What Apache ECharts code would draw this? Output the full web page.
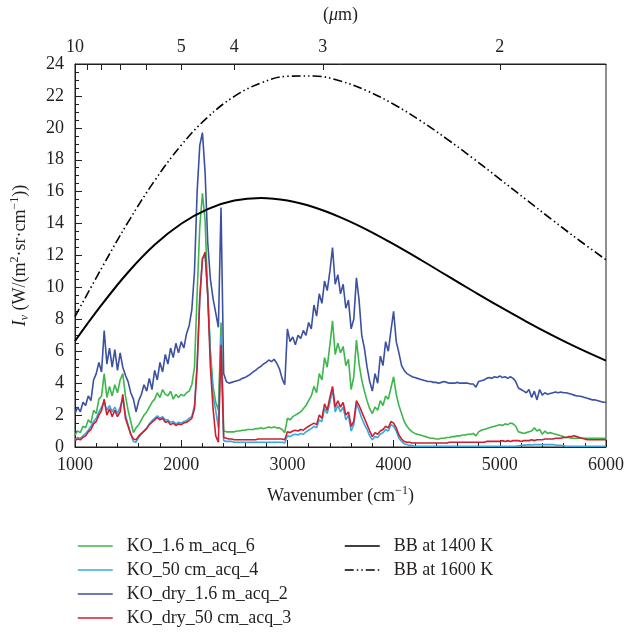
<!DOCTYPE html>
<html>
<head>
<meta charset="utf-8">
<script src="https://cdn.jsdelivr.net/npm/echarts@6/dist/echarts.min.js"></script>
<style>
  html, body { margin: 0; padding: 0; background: #fff; }
  #chart { width: 625px; height: 637px; }
</style>
</head>
<body>
<div id="chart"></div>
<script>
// spectra sampled every 25 cm-1 from 1000 to 6000
var wnStart = 1000, wnStep = 25;

var ko16m = [
  0.75, 1.0, 0.9, 1.3, 1.2, 1.7, 1.5, 2.3, 2.1, 3.0,
  3.2, 4.6, 3.1, 3.8, 3.2, 3.9, 3.4, 4.2, 4.6, 3.2,
  2.3, 1.6, 0.9, 1.2, 1.4, 1.7, 2.0, 2.2, 2.5, 2.8,
  3.0, 3.4, 3.1, 3.6, 3.3, 3.2, 3.5, 3.0, 3.3, 3.1,
  3.3, 3.2, 3.4, 3.5, 3.9, 5.0, 9.6, 13.8, 15.9, 14.2,
  9.5, 6.0, 3.8, 2.8, 2.3, 7.8, 1.0, 0.95, 0.95, 0.95,
  0.95, 1.0, 1.0, 1.05, 1.05, 1.1, 1.1, 1.1, 1.15, 1.15,
  1.2, 1.15, 1.2, 1.25, 1.2, 1.25, 1.2, 1.2, 1.1, 0.9,
  1.8, 1.7, 1.9, 2.0, 2.1, 2.2, 2.4, 2.6, 2.9, 3.2,
  3.8, 3.4, 4.6, 4.2, 5.6, 5.0, 6.4, 7.9, 5.8, 6.5,
  5.9, 6.3, 5.1, 5.5, 3.6, 4.4, 6.7, 5.2, 4.2, 3.5,
  2.9, 2.4, 2.1, 2.5, 2.3, 2.9, 2.6, 3.2, 3.0, 3.7,
  4.4, 3.3, 2.6, 2.1, 1.6, 1.3, 1.1, 0.95, 0.85, 0.8,
  0.75, 0.7, 0.65, 0.6, 0.55, 0.55, 0.5, 0.5, 0.55, 0.55,
  0.6, 0.6, 0.65, 0.65, 0.7, 0.7, 0.75, 0.75, 0.8, 0.8,
  0.85, 0.7, 0.95, 1.05, 1.1, 1.15, 1.2, 1.25, 1.3, 1.35,
  1.4, 1.35, 1.45, 1.4, 1.5, 1.45, 1.3, 0.95, 0.9, 0.85,
  0.9, 0.95, 1.0, 1.2, 1.0, 1.1, 0.8, 1.0, 0.85, 0.9,
  0.85, 0.8, 0.75, 0.7, 0.65, 0.6, 0.6, 0.55, 0.55, 0.55,
  0.55, 0.55, 0.55, 0.55, 0.55, 0.55, 0.55, 0.55, 0.55, 0.55,
  0.55
];

var ko50cm = [
  0.45, 0.6, 0.55, 0.7, 0.85, 1.05, 1.3, 1.6, 1.8, 2.2,
  2.5, 2.8, 2.3, 2.6, 2.2, 2.5, 2.1, 2.5, 3.0, 2.0,
  1.4, 0.8, 0.35, 0.3, 0.6, 0.8, 1.0, 1.2, 1.45, 1.65,
  1.8, 1.95, 1.8, 1.9, 1.7, 1.7, 1.55, 1.6, 1.45, 1.55,
  1.5, 1.6, 1.65, 1.8, 1.9, 2.6, 5.2, 9.4, 11.8, 12.0,
  9.6, 5.8, 3.2, 2.3, 1.2, 7.0, 0.4, 0.35, 0.35, 0.35,
  0.3, 0.3, 0.3, 0.3, 0.3, 0.3, 0.3, 0.3, 0.3, 0.3,
  0.3, 0.3, 0.3, 0.3, 0.3, 0.3, 0.3, 0.3, 0.3, 0.25,
  0.7, 0.65, 0.75, 0.8, 0.75, 0.85, 0.8, 0.95, 1.05, 1.15,
  1.3, 1.2, 1.7, 1.6, 2.4, 2.1, 2.8, 3.6, 2.2, 2.6,
  2.2, 2.5, 1.7, 2.0, 1.0, 1.4, 2.7, 2.3, 1.8, 1.4,
  1.1, 0.7, 0.45, 0.65, 0.6, 0.8, 0.9, 1.1, 1.0, 1.4,
  1.3, 1.0, 0.55, 0.35, 0.2, 0.15, 0.1, 0.1, 0.05, 0.05,
  0.05, 0.05, 0.05, 0.05, 0.05, 0.05, 0.05, 0.05, 0.05, 0.05,
  0.05, 0.05, 0.05, 0.05, 0.05, 0.05, 0.05, 0.05, 0.05, 0.05,
  0.05, 0.05, 0.05, 0.05, 0.05, 0.05, 0.05, 0.05, 0.05, 0.05,
  0.05, 0.05, 0.05, 0.05, 0.05, 0.05, 0.05, 0.08, 0.1, 0.12,
  0.12, 0.15, 0.12, 0.15, 0.15, 0.15, 0.15, 0.15, 0.15, 0.15,
  0.15, 0.12, 0.1, 0.1, 0.08, 0.05, 0.05, 0.05, 0.05, 0.05,
  0.05, 0.05, 0.05, 0.05, 0.05, 0.05, 0.05, 0.05, 0.05, 0.05,
  0.05
];

var koDry16m = [
  2.1, 2.5, 2.2, 2.8, 2.6, 3.2, 2.9, 4.2, 4.6, 5.3,
  4.7, 7.3, 5.2, 6.2, 5.0, 6.1, 4.8, 5.9, 5.0, 4.5,
  4.1, 3.4, 3.0, 2.2, 2.9, 3.3, 3.9, 3.5, 4.3, 3.6,
  4.8, 4.2, 5.3, 4.7, 5.8, 5.2, 6.2, 5.6, 6.5, 5.9,
  6.6, 6.2, 7.1, 7.6, 8.6, 11.0, 16.0, 18.9, 19.7, 17.2,
  12.8, 10.5, 9.3, 8.4, 7.5, 15.0, 4.6, 4.1, 4.0, 4.05,
  4.1, 4.15, 4.2, 4.3, 4.35, 4.45, 4.55, 4.7, 4.8, 4.95,
  5.05, 5.2, 5.3, 5.45, 5.35, 5.5, 5.25, 4.9, 4.3, 3.9,
  7.4, 6.6, 6.9, 6.4, 7.0, 6.8, 7.3, 7.0, 7.8, 7.4,
  8.9, 8.2, 9.6, 9.0, 10.4, 9.8, 11.0, 12.5, 10.2, 10.8,
  9.6, 10.2, 8.7, 9.2, 7.4, 8.0, 10.6, 9.2, 7.0, 6.2,
  5.0, 4.1, 3.5, 4.6, 4.0, 5.7, 5.1, 6.6, 6.0, 7.3,
  8.5, 6.6, 5.9, 5.1, 4.8, 4.6, 4.5, 4.4, 4.35, 4.3,
  4.25, 4.2, 4.15, 4.1, 4.1, 4.05, 4.05, 4.0, 4.05, 4.1,
  4.05, 4.0, 4.0, 4.0, 4.05, 4.0, 4.0, 4.0, 4.0, 3.95,
  3.95, 3.75, 4.1, 4.15, 4.2, 4.3, 4.35, 4.3, 4.4, 4.35,
  4.45, 4.35, 4.4, 4.3, 4.4, 4.3, 4.1, 3.7, 3.6, 3.5,
  3.4, 3.6, 3.1, 3.5, 2.95, 3.6, 3.25, 3.4, 3.3, 3.35,
  3.4, 3.45, 3.4, 3.45, 3.4, 3.4, 3.35, 3.3, 3.25, 3.2,
  3.2, 3.15, 3.1, 3.05, 3.0, 2.95, 2.95, 2.9, 2.85, 2.8,
  2.8
];

var koDry50cm = [
  0.4, 0.5, 0.45, 0.6, 0.7, 0.95, 1.1, 1.45, 1.6, 2.0,
  2.3, 3.0, 2.0, 2.4, 1.9, 2.3, 1.9, 2.2, 3.3, 1.8,
  1.3, 0.8, 0.5, 0.45, 0.7, 0.85, 1.0, 1.15, 1.4, 1.55,
  1.7, 1.85, 1.7, 1.8, 1.55, 1.6, 1.4, 1.5, 1.35, 1.45,
  1.4, 1.5, 1.55, 1.65, 1.8, 2.4, 5.0, 9.3, 11.8, 12.2,
  9.5, 5.0, 2.4, 0.7, 0.3, 6.4, 0.6, 0.55, 0.5, 0.5,
  0.45, 0.45, 0.45, 0.45, 0.45, 0.45, 0.45, 0.45, 0.45, 0.5,
  0.5, 0.5, 0.5, 0.5, 0.5, 0.5, 0.5, 0.5, 0.5, 0.45,
  0.95, 0.9, 1.0, 1.05, 1.0, 1.1, 1.05, 1.2, 1.3, 1.4,
  1.5, 1.4, 2.0, 1.8, 2.7, 2.3, 3.1, 3.8, 2.5, 2.9,
  2.5, 2.8, 2.0, 2.2, 1.3, 1.6, 2.9, 2.6, 2.2, 1.8,
  1.4, 1.0, 0.65, 0.9, 0.8, 1.0, 1.1, 1.3, 1.2, 1.6,
  1.5, 1.2, 0.75, 0.5, 0.35, 0.3, 0.3, 0.25, 0.25, 0.25,
  0.25, 0.25, 0.25, 0.25, 0.25, 0.25, 0.25, 0.25, 0.25, 0.25,
  0.25, 0.3, 0.3, 0.3, 0.3, 0.3, 0.3, 0.3, 0.3, 0.3,
  0.3, 0.3, 0.3, 0.3, 0.3, 0.35, 0.35, 0.35, 0.35, 0.35,
  0.35, 0.4, 0.35, 0.4, 0.35, 0.4, 0.4, 0.4, 0.35, 0.4,
  0.4, 0.4, 0.45, 0.4, 0.45, 0.45, 0.45, 0.5, 0.5, 0.5,
  0.5, 0.55, 0.55, 0.55, 0.6, 0.6, 0.65, 0.65, 0.7, 0.65,
  0.6, 0.55, 0.5, 0.45, 0.45, 0.45, 0.45, 0.45, 0.45, 0.45,
  0.45
];

// blackbody curves, read every 250 cm-1
var bbWn = [1000, 1250, 1500, 1750, 2000, 2250, 2500, 2750, 3000, 3250, 3500,
  3750, 4000, 4250, 4500, 4750, 5000, 5250, 5500, 5750, 6000];
var bb1400 = [6.64, 8.90, 10.95, 12.67, 13.99, 14.91, 15.44, 15.60, 15.44, 15.02, 14.39,
  13.61, 12.71, 11.75, 10.75, 9.76, 8.79, 7.86, 6.98, 6.16, 5.41];
var bb1600 = [8.17, 11.20, 14.09, 16.69, 18.91, 20.67, 21.97, 22.81, 23.23, 23.25, 22.93,
  22.32, 21.48, 20.46, 19.31, 18.08, 16.79, 15.49, 14.20, 12.94, 11.73];

// top axis (wavelength, um)
var umTicks = [10, 9, 8, 7, 6, 5, 4, 3, 2];
var umLabels = [10, 5, 4, 3, 2];

var serif = "'Liberation Serif', 'DejaVu Serif', serif";
var ink = '#231f20';

function pairs(vals) {
  return vals.map(function (v, i) { return [wnStart + i * wnStep, v]; });
}
function bbPairs(vals) {
  return vals.map(function (v, i) { return [bbWn[i], v]; });
}

var richText = {
  it: { fontStyle: 'italic', fontFamily: serif, fontSize: 18, color: ink, lineHeight: 22, verticalAlign: 'middle' },
  sub: { fontStyle: 'italic', fontFamily: serif, fontSize: 12, color: ink, lineHeight: 22, verticalAlign: 'bottom' },
  sup: { fontFamily: serif, fontSize: 12, color: ink, lineHeight: 22, verticalAlign: 'top' },
  t: { fontFamily: serif, fontSize: 18, color: ink, lineHeight: 22, verticalAlign: 'middle' }
};

var chart = echarts.init(document.getElementById('chart'), null, { renderer: 'canvas' });

var specLine = function (name, color, vals) {
  return {
    name: name,
    type: 'line',
    xAxisIndex: 0,
    yAxisIndex: 0,
    symbol: 'none',
    showSymbol: false,
    lineStyle: { color: color, width: 1.6 },
    itemStyle: { color: color },
    data: pairs(vals)
  };
};

var legendBase = {
  orient: 'vertical',
  top: 532, height: 104,
  itemWidth: 35, itemHeight: 10, itemGap: 6,
  itemStyle: { opacity: 0 },
  lineStyle: { width: 1.5 },
  textStyle: { fontFamily: serif, fontSize: 18, color: ink, padding: [0, 0, 0, 9] }
};

var option = {
  animation: false,
  backgroundColor: '#fff',
  grid: {
    left: 75, right: 19, top: 64, bottom: 190,
    show: true, borderColor: ink, borderWidth: 1,
    outerBoundsMode: 'none'
  },
  legend: [
    Object.assign({}, legendBase, {
      left: 72,
      data: ['KO_1.6 m_acq_6', 'KO_50 cm_acq_4', 'KO_dry_1.6 m_acq_2', 'KO_dry_50 cm_acq_3']
    }),
    Object.assign({}, legendBase, {
      left: 339,
      data: ['BB at 1400 K', 'BB at 1600 K']
    })
  ],
  xAxis: [{
    type: 'value',
    position: 'bottom',
    min: 1000, max: 6000, interval: 1000,
    name: '{t|Wavenumber (cm}{sup|−1}{t|)}',
    nameLocation: 'middle',
    nameGap: 38,
    nameTextStyle: { rich: richText },
    axisLine: { lineStyle: { color: ink, width: 1 } },
    axisTick: { inside: true, length: 7, lineStyle: { color: ink } },
    minorTick: { show: true, splitNumber: 5, length: 4, lineStyle: { color: ink } },
    axisLabel: {
      fontFamily: serif, fontSize: 18, color: ink, margin: 9,
      formatter: function (v) { return String(v); }
    },
    splitLine: { show: false }
  }, {
    type: 'value',
    position: 'top',
    min: 1000, max: 6000,
    name: '{t|(}{it|μ}{t|m)}',
    nameLocation: 'middle',
    nameGap: 38,
    nameTextStyle: { rich: richText },
    axisLine: { lineStyle: { color: ink, width: 1 } },
    axisTick: {
      inside: true, length: 6, lineStyle: { color: ink },
      customValues: umTicks.map(function (u) { return 10000 / u; })
    },
    axisLabel: {
      fontFamily: serif, fontSize: 18, color: ink, margin: 8,
      customValues: umLabels.map(function (u) { return 10000 / u; }),
      formatter: function (v) { return String(Math.round(10000 / v)); }
    },
    splitLine: { show: false }
  }],
  yAxis: [{
    type: 'value',
    min: 0, max: 24, interval: 2,
    name: '{it|I}{sub|ν}{t| (W/(m}{sup|2}{t|·sr·cm}{sup|−1}{t|))}',
    nameLocation: 'middle',
    nameRotate: 90,
    nameGap: 44,
    nameTextStyle: { rich: richText },
    axisLine: { show: true, lineStyle: { color: ink, width: 1 } },
    axisTick: { inside: true, length: 7, lineStyle: { color: ink } },
    minorTick: { show: true, splitNumber: 4, length: 4, lineStyle: { color: ink } },
    axisLabel: { fontFamily: serif, fontSize: 18, color: ink, margin: 11 },
    splitLine: { show: false }
  }],
  series: [
    specLine('KO_1.6 m_acq_6', '#3db64b', ko16m),
    specLine('KO_50 cm_acq_4', '#36a9e1', ko50cm),
    specLine('KO_dry_1.6 m_acq_2', '#3c50a2', koDry16m),
    specLine('KO_dry_50 cm_acq_3', '#cc1f2f', koDry50cm),
    {
      name: 'BB at 1400 K',
      type: 'line',
      symbol: 'none',
      smooth: 0.4,
      lineStyle: { color: '#000', width: 2 },
      itemStyle: { color: '#000' },
      data: bbPairs(bb1400)
    },
    {
      name: 'BB at 1600 K',
      type: 'line',
      symbol: 'none',
      smooth: 0.4,
      lineStyle: { color: '#000', width: 1.6, type: [9, 3, 1.5, 3, 1.5, 3] },
      itemStyle: { color: '#000' },
      data: bbPairs(bb1600)
    }
  ]
};

chart.setOption(option);
</script>
</body>
</html>
